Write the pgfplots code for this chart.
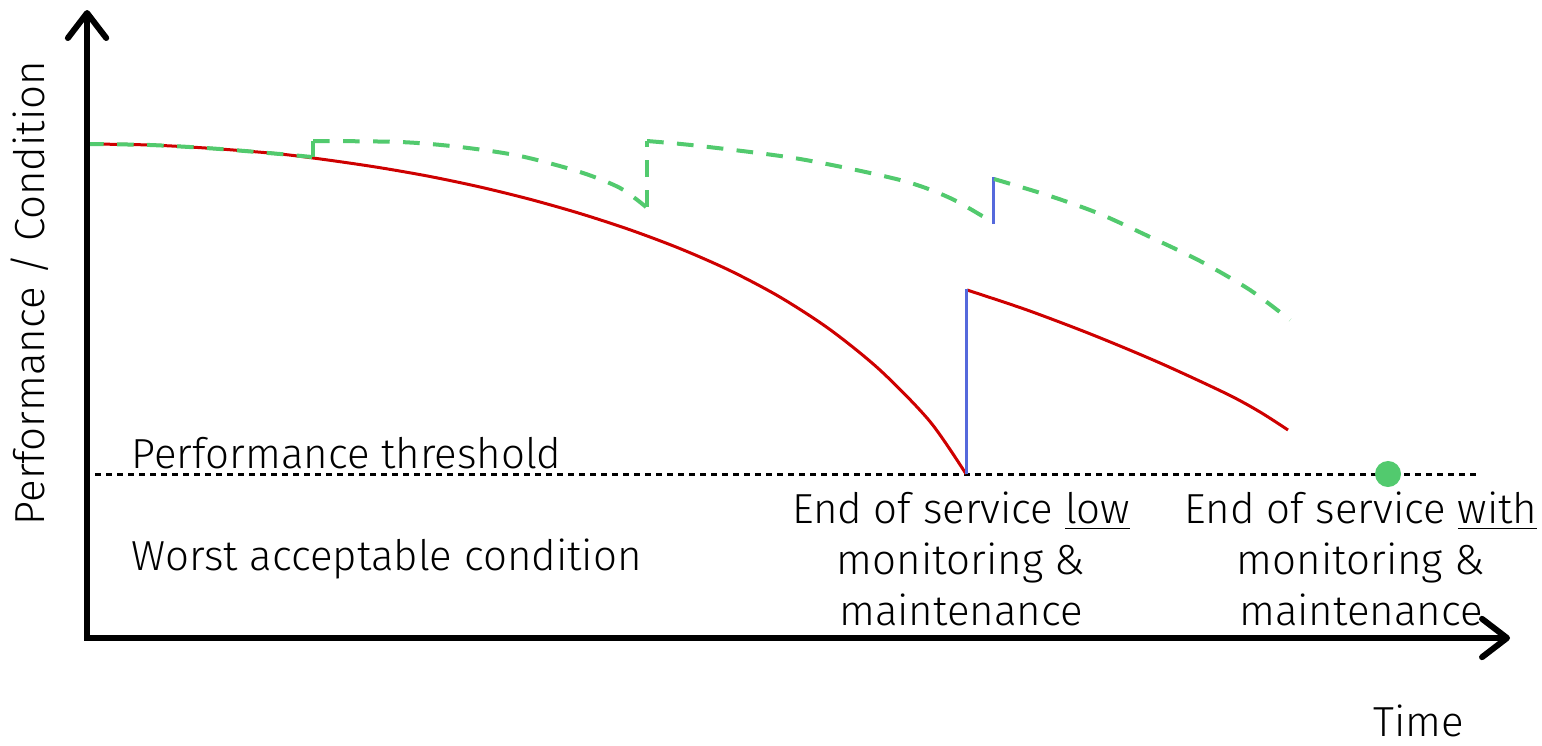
\documentclass[border=0pt]{standalone}
\usepackage{pgfplots}
\pgfplotsset{compat=1.18}
\usepackage{fontspec}
\setmainfont{Fira Sans}[UprightFont={* Light}]
\usetikzlibrary{arrows.meta}
\definecolor{cred}{RGB}{206,0,0}
\definecolor{cgreen}{RGB}{82,202,110}
\definecolor{cblue}{RGB}{85,105,220}
\begin{document}
\begin{tikzpicture}
\begin{axis}[x=0.3pt,y=0.3pt,y dir=reverse,xmin=0,xmax=1542,ymin=0,ymax=746,
  hide axis,clip=false]
\path (axis cs:0,0) rectangle (axis cs:1542,746);
% threshold
\addplot[black,line width=0.9pt,dash pattern=on 1.8pt off 1.5pt] coordinates {(95,474) (1478,474)};
% red curve before maintenance
\addplot[cred,line width=0.9pt,smooth] coordinates {
(87,144) (150,145) (213,148.5) (280,154) (330,160.3) (380,167.7) (430,176.5) (480,187)
(530,199.3) (580,213.5) (630,229.8) (680,248.6) (730,270.6) (780,297.1) (830,329.6)
(880,370.1) (930,421.6) (966,474)};
% red curve after
\addplot[cred,line width=0.9pt,smooth] coordinates {
(967,290) (1027,310) (1093,335) (1160,363) (1227,394) (1260,412) (1288,430)};
% blue jump red
\addplot[cblue,line width=0.9pt] coordinates {(966,474) (966,289)};
% green dashed
\addplot[cgreen,line width=1.2pt,dash pattern=on 5pt off 4pt,smooth] coordinates {
(87,144) (150,145) (213,148.5) (280,154) (312,157)};
\addplot[cgreen,line width=1.2pt,dash pattern=on 5pt off 4pt] coordinates {(313,157) (313,141)};
\addplot[cgreen,line width=1.2pt,dash pattern=on 5pt off 4pt,smooth] coordinates {
(313,141) (400,142) (460,147) (520,156) (580,172) (620,188) (646,207)};
\addplot[cgreen,line width=1.2pt,dash pattern=on 5pt off 4pt] coordinates {(647,207) (647,141)};
\addplot[cgreen,line width=1.2pt,dash pattern=on 5pt off 4pt,smooth] coordinates {
(647,141) (700,146) (800,159) (900,180) (950,198) (992,222)};
\addplot[cblue,line width=0.9pt] coordinates {(993,224) (993,177)};
\addplot[cgreen,line width=1.2pt,dash pattern=on 5pt off 4pt,smooth] coordinates {
(994,179) (1050,196) (1100,214) (1150,237) (1200,261) (1250,290) (1290,320)};
% end point
\addplot[only marks,mark=*,mark size=3.7pt,mark options={fill=cgreen,draw=cgreen}] coordinates {(1388,474)};
% axes
\addplot[black,line width=1.8pt,line join=miter,
  {Straight Barb[length=7.5pt,width=11.5pt,round]}-{Straight Barb[length=7.5pt,width=11.5pt,round]}]
  coordinates {(87,10) (87,638) (1510,638)};
% texts
\node[rotate=90,font=\fontsize{12.6}{15.3}\selectfont] at (axis cs:30,293) {Performance / Condition};
\node[anchor=base west,inner sep=0pt,font=\fontsize{12.6}{15.3}\selectfont] at (axis cs:131,468) {Performance threshold};
\node[anchor=base west,inner sep=0pt,font=\fontsize{12.6}{15.3}\selectfont] at (axis cs:131,570) {Worst acceptable condition};
\node[anchor=north,align=center,inner sep=0pt,font=\fontsize{12.6}{15.3}\selectfont] at (axis cs:961,491) {End of service \underline{low}\\monitoring \&\\maintenance};
\node[anchor=north,align=center,inner sep=0pt,font=\fontsize{12.6}{15.3}\selectfont] at (axis cs:1361,491) {End of service \underline{with}\\monitoring \&\\maintenance};
\node[anchor=base,inner sep=0pt,font=\fontsize{12.6}{15.3}\selectfont] at (axis cs:1419,736) {Time};
\end{axis}
\end{tikzpicture}
\end{document}
